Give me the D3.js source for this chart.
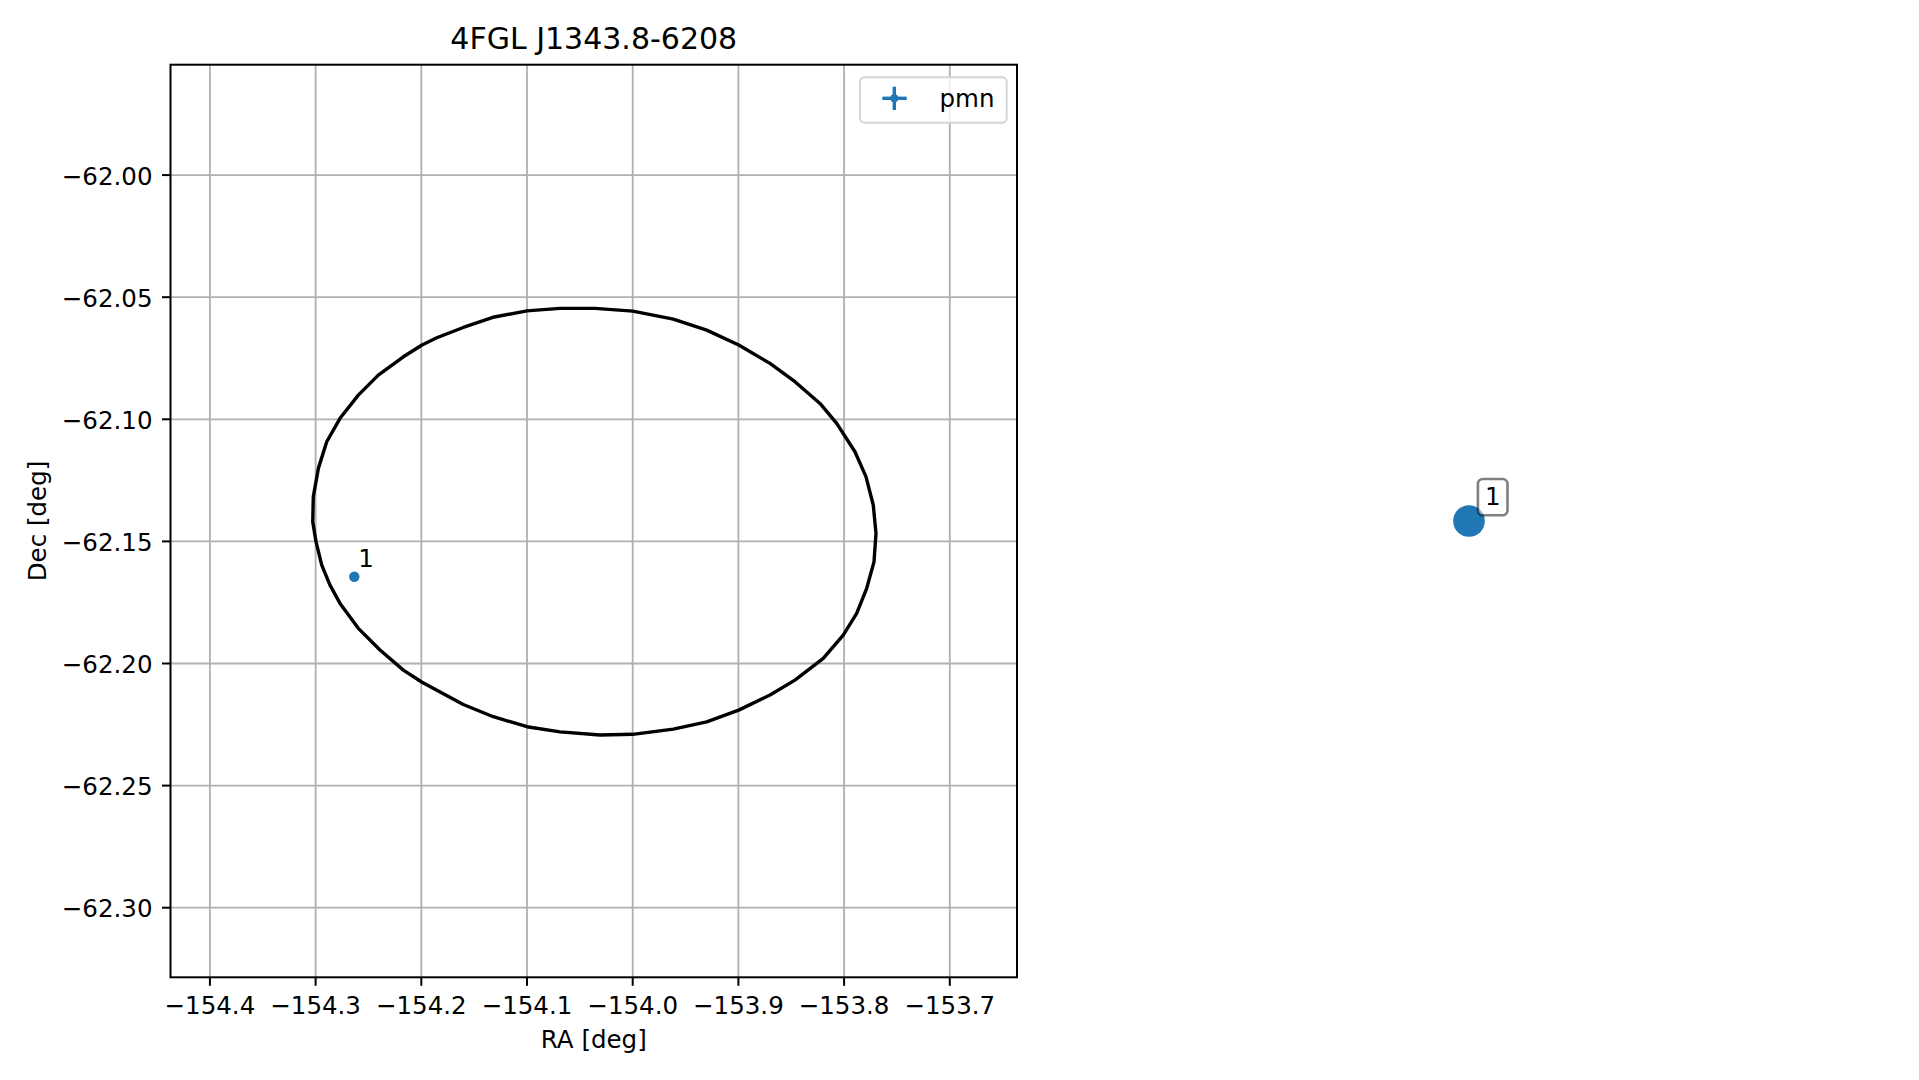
<!DOCTYPE html>
<html>
<head>
<meta charset="utf-8">
<script src="https://cdn.jsdelivr.net/npm/d3@7"></script>
<style>
  html, body { margin: 0; padding: 0; background: #ffffff; }
  svg { display: block; }
  text { font-family: "DejaVu Sans", sans-serif; fill: #000; }
</style>
</head>
<body>
<svg id="chart" width="1919" height="1080"></svg>
<script>
// ---------------- data ----------------
const chartTitle = "4FGL J1343.8-6208";
const xLabel = "RA [deg]";
const yLabel = "Dec [deg]";
const raTicks = [-154.4, -154.3, -154.2, -154.1, -154.0, -153.9, -153.8, -153.7];
const decTicks = [-62.00, -62.05, -62.10, -62.15, -62.20, -62.25, -62.30];
const raLimits = [-154.4373, -153.6364];
const decLimits = [-61.9548, -62.3285];

// error ellipse outline (vertices)
const ellipseRA = [
  -154.1000, -154.0688, -154.0357, -154.0000, -153.9616, -153.9300, -153.8997, -153.8701,
  -153.8465, -153.8228, -153.8070, -153.7897, -153.7793, -153.7724, -153.7698, -153.7717,
  -153.7786, -153.7881, -153.8008, -153.8197, -153.8465, -153.8701, -153.8997, -153.9300,
  -153.9616, -154.0000, -154.0309, -154.0688, -154.1000, -154.1319, -154.1603, -154.1993,
  -154.2170, -154.2391, -154.2596, -154.2769, -154.2864, -154.2942, -154.2996, -154.3027,
  -154.3022, -154.2974, -154.2895, -154.2769, -154.2596, -154.2407, -154.2170, -154.1993,
  -154.1854, -154.1603, -154.1309
];
const ellipseDec = [
  -62.0556, -62.0546, -62.0546, -62.0557, -62.0590, -62.0635, -62.0696, -62.0771,
  -62.0846, -62.0935, -62.1017, -62.1133, -62.1235, -62.1351, -62.1467, -62.1584,
  -62.1692, -62.1795, -62.1884, -62.1979, -62.2068, -62.2129, -62.2191, -62.2239,
  -62.2269, -62.2290, -62.2293, -62.2280, -62.2259, -62.2218, -62.2168, -62.2077,
  -62.2027, -62.1945, -62.1856, -62.1754, -62.1679, -62.1597, -62.1502, -62.1420,
  -62.1317, -62.1201, -62.1092, -62.0996, -62.0901, -62.0819, -62.0744, -62.0696,
  -62.0666, -62.0624, -62.0581
];

// candidate sources (catalogue "pmn")
const sourceRA = [-154.2634];
const sourceDec = [-62.1645];
const sourceLabels = ["1"];
const seriesName = "pmn";

// ---------------- layout / style ----------------
const BLUE = "#1f77b4";
const FS = 24.5;       // 10 pt
const FS_TITLE = 30;   // 12 pt
const ax = { left: 170.5, right: 1017, top: 64.7, bottom: 977.3 };

const svg = d3.select("#chart");
svg.append("rect").attr("width", 1919).attr("height", 1080).attr("fill", "#fff");

const x = d3.scaleLinear().domain(raLimits).range([ax.left, ax.right]);
const y = d3.scaleLinear().domain(decLimits).range([ax.top, ax.bottom]);

const fmtX = v => d3.format(".1f")(v).replace("-", "\u2212");
const fmtY = v => d3.format(".2f")(v).replace("-", "\u2212");

// grid
const grid = svg.append("g");
grid.selectAll("line.gx").data(raTicks).join("line")
  .attr("x1", d => x(d)).attr("x2", d => x(d))
  .attr("y1", ax.top).attr("y2", ax.bottom)
  .attr("stroke", "#b0b0b0").attr("stroke-width", 1.8);
grid.selectAll("line.gy").data(decTicks).join("line")
  .attr("y1", d => y(d)).attr("y2", d => y(d))
  .attr("x1", ax.left).attr("x2", ax.right)
  .attr("stroke", "#b0b0b0").attr("stroke-width", 1.8);

// ellipse
const ellipsePts = ellipseRA.map((r, i) => [r, ellipseDec[i]]);
svg.append("clipPath").attr("id", "axclip").append("rect")
  .attr("x", ax.left).attr("y", ax.top)
  .attr("width", ax.right - ax.left).attr("height", ax.bottom - ax.top);
const plot = svg.append("g").attr("clip-path", "url(#axclip)");
plot.append("path")
  .datum(ellipsePts)
  .attr("d", d3.line().x(d => x(d[0])).y(d => y(d[1])).curve(d3.curveLinearClosed))
  .attr("fill", "none").attr("stroke", "#000").attr("stroke-width", 3.4)
  .attr("stroke-linejoin", "round");

// sources
const src = sourceRA.map((r, i) => ({ ra: r, dec: sourceDec[i], label: sourceLabels[i] }));
plot.selectAll("circle.src").data(src).join("circle")
  .attr("cx", d => x(d.ra)).attr("cy", d => y(d.dec)).attr("r", 5.2)
  .attr("fill", BLUE);
plot.selectAll("text.src").data(src).join("text")
  .attr("x", d => x(d.ra) + 4).attr("y", d => y(d.dec) - 10)
  .attr("font-size", FS).text(d => d.label);

// spines
svg.append("rect")
  .attr("x", ax.left).attr("y", ax.top)
  .attr("width", ax.right - ax.left).attr("height", ax.bottom - ax.top)
  .attr("fill", "none").attr("stroke", "#000").attr("stroke-width", 2);

// x axis ticks
const TL = 8.5;
const gx = svg.append("g");
gx.selectAll("line").data(raTicks).join("line")
  .attr("x1", d => x(d)).attr("x2", d => x(d))
  .attr("y1", ax.bottom).attr("y2", ax.bottom + TL)
  .attr("stroke", "#000").attr("stroke-width", 2);
gx.selectAll("text").data(raTicks).join("text")
  .attr("x", d => x(d)).attr("y", 1014)
  .attr("text-anchor", "middle").attr("font-size", FS)
  .text(fmtX);

// y axis ticks
const gy = svg.append("g");
gy.selectAll("line").data(decTicks).join("line")
  .attr("y1", d => y(d)).attr("y2", d => y(d))
  .attr("x1", ax.left - TL).attr("x2", ax.left)
  .attr("stroke", "#000").attr("stroke-width", 2);
gy.selectAll("text").data(decTicks).join("text")
  .attr("x", 152.5).attr("y", d => y(d) + 9.5)
  .attr("text-anchor", "end").attr("font-size", FS)
  .text(fmtY);

// labels & title
svg.append("text").attr("x", (ax.left + ax.right) / 2).attr("y", 1048)
  .attr("text-anchor", "middle").attr("font-size", FS).text(xLabel);
svg.append("text")
  .attr("transform", `translate(45.5, ${(ax.top + ax.bottom) / 2}) rotate(-90)`)
  .attr("text-anchor", "middle").attr("font-size", FS).text(yLabel);
svg.append("text").attr("x", (ax.left + ax.right) / 2).attr("y", 48.5)
  .attr("text-anchor", "middle").attr("font-size", FS_TITLE).text(chartTitle);

// legend
const lg = svg.append("g");
lg.append("rect").attr("x", 860).attr("y", 77.3).attr("width", 146.7).attr("height", 45.4)
  .attr("rx", 4.5).attr("fill", "#fff").attr("fill-opacity", 0.8)
  .attr("stroke", "#d4d4d4").attr("stroke-width", 1.9);
lg.append("line").attr("x1", 882.3).attr("x2", 906.7).attr("y1", 98.3).attr("y2", 98.3)
  .attr("stroke", BLUE).attr("stroke-width", 3.4);
lg.append("line").attr("x1", 894.3).attr("x2", 894.3).attr("y1", 86.7).attr("y2", 110)
  .attr("stroke", BLUE).attr("stroke-width", 3.4);
lg.append("circle").attr("cx", 894.3).attr("cy", 98.3).attr("r", 4).attr("fill", BLUE);
lg.append("text").attr("x", 939.5).attr("y", 106.5).attr("font-size", FS).text(seriesName);

// right panel (axis off): the source on its own autoscaled axes
const px = { left: 1121, right: 1817, top: 64.7, bottom: 977.3 };
const x2 = d3.scaleLinear()
  .domain([d3.min(sourceRA) - 0.1, d3.max(sourceRA) + 0.1]).range([px.left, px.right]);
const y2 = d3.scaleLinear()
  .domain([d3.max(sourceDec) + 0.1, d3.min(sourceDec) - 0.1]).range([px.top, px.bottom]);
const rp = svg.append("g");
rp.selectAll("circle").data(src).join("circle")
  .attr("cx", d => x2(d.ra)).attr("cy", d => y2(d.dec)).attr("r", 15.8)
  .attr("fill", BLUE);
const ann = rp.selectAll("g.ann").data(src).join("g")
  .attr("transform", d => `translate(${x2(d.ra) + 23.7}, ${y2(d.dec) - 16})`);
ann.append("rect").attr("x", -14.8).attr("y", -26).attr("width", 29.6).attr("height", 36.3)
  .attr("rx", 5).attr("fill", "#fff").attr("fill-opacity", 0.5)
  .attr("stroke", "#000").attr("stroke-opacity", 0.5).attr("stroke-width", 2.6);
ann.append("text").attr("x", 0).attr("y", 0)
  .attr("text-anchor", "middle").attr("font-size", FS).text(d => d.label);
</script>
</body>
</html>
